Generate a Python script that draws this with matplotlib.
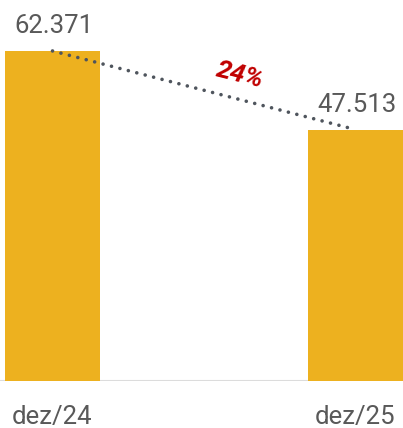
import matplotlib.pyplot as plt

categories = ['dez/24', 'dez/25']
values = [62371, 47513]
value_labels = ['62.371', '47.513']
change_label = '24%'

plt.rcParams['font.family'] = ['Roboto', 'DejaVu Sans']

fig = plt.figure(figsize=(4.03, 4.28), dpi=100)
ax = fig.add_axes([0, 47 / 428, 1, 381 / 428])

x = list(range(len(categories)))
vals = [v / 1000 for v in values]

ax.bar(x, vals, width=0.3135, color='#EDB11F', zorder=2)

# linha pontilhada entre os topos
ax.plot(x, vals, linestyle=(0, (0.01, 2.4)), dash_capstyle='round',
        color='#4f555d', linewidth=2.6, zorder=3)

for xi, v, lab in zip(x, vals, value_labels):
    ax.text(xi + 0.005, v + 3.4, lab, ha='center', va='baseline',
            fontsize=18.5, color='#595959')

ax.text(0.62, 57.8, change_label, ha='center', va='center', rotation=-14,
        fontsize=19, fontweight='bold', fontstyle='italic', color='#C00000')

for xi, c in zip(x, categories):
    ax.text(xi, -8.2, c, ha='center', va='baseline', fontsize=18.5,
            color='#595959', clip_on=False)

ax.axhline(0, color='#dcdcdc', linewidth=1.5, zorder=1)

ax.set_xlim(-0.1733, 1.1568)
ax.set_ylim(0, 72.0)
ax.axis('off')

fig.savefig('out.png', dpi=100)
